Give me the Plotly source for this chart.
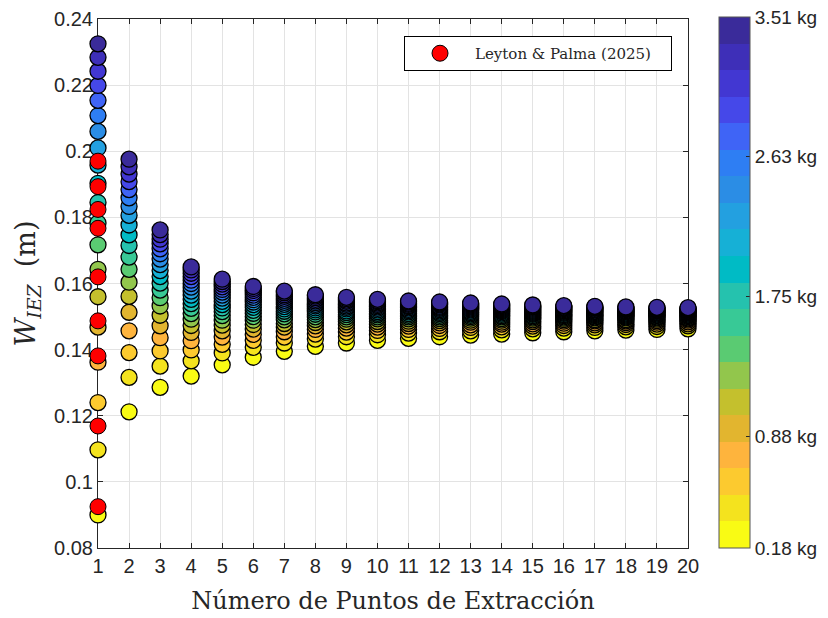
import plotly.graph_objects as go

# Number of extraction points (x axis)
puntos = list(range(1, 21))

# Charge mass per series (kg), lowest to highest
masa_kg = [0.18, 0.3553, 0.5305, 0.7058, 0.8811, 1.0563, 1.2316, 1.4068, 1.5821, 1.7574,
           1.9326, 2.1079, 2.2832, 2.4584, 2.6337, 2.8089, 2.9842, 3.1595, 3.3347, 3.51]

# W_IEZ (m) for each number of extraction points, one value per mass (same order as masa_kg)
w_n01 = [0.0900, 0.1097, 0.1240, 0.1362, 0.1468, 0.1560, 0.1643, 0.1717, 0.1783, 0.1845,
         0.1903, 0.1958, 0.2010, 0.2060, 0.2108, 0.2154, 0.2199, 0.2242, 0.2284, 0.2325]
w_n02 = [0.1212, 0.1316, 0.1391, 0.1457, 0.1513, 0.1561, 0.1604, 0.1643, 0.1680, 0.1715,
         0.1747, 0.1777, 0.1806, 0.1833, 0.1859, 0.1884, 0.1908, 0.1931, 0.1953, 0.1976]
w_n03 = [0.1286, 0.1350, 0.1396, 0.1436, 0.1472, 0.1504, 0.1532, 0.1557, 0.1580, 0.1601,
         0.1621, 0.1639, 0.1657, 0.1674, 0.1690, 0.1705, 0.1720, 0.1734, 0.1748, 0.1762]
w_n04 = [0.1320, 0.1366, 0.1399, 0.1427, 0.1452, 0.1473, 0.1492, 0.1509, 0.1525, 0.1539,
         0.1552, 0.1565, 0.1577, 0.1589, 0.1600, 0.1610, 0.1621, 0.1631, 0.1641, 0.1650]
w_n05 = [0.1354, 0.1390, 0.1416, 0.1438, 0.1457, 0.1474, 0.1489, 0.1503, 0.1515, 0.1526,
         0.1536, 0.1546, 0.1556, 0.1565, 0.1574, 0.1582, 0.1590, 0.1598, 0.1606, 0.1613]
w_n06 = [0.1377, 0.1407, 0.1428, 0.1446, 0.1462, 0.1476, 0.1489, 0.1500, 0.1510, 0.1519,
         0.1528, 0.1536, 0.1544, 0.1551, 0.1558, 0.1565, 0.1572, 0.1579, 0.1585, 0.1591]
w_n07 = [0.1395, 0.1420, 0.1438, 0.1454, 0.1468, 0.1479, 0.1490, 0.1499, 0.1508, 0.1516,
         0.1523, 0.1530, 0.1537, 0.1543, 0.1549, 0.1555, 0.1561, 0.1566, 0.1572, 0.1577]
w_n08 = [0.1410, 0.1432, 0.1447, 0.1461, 0.1472, 0.1482, 0.1491, 0.1499, 0.1507, 0.1514,
         0.1520, 0.1526, 0.1532, 0.1537, 0.1542, 0.1547, 0.1552, 0.1557, 0.1562, 0.1566]
w_n09 = [0.1420, 0.1439, 0.1453, 0.1465, 0.1475, 0.1484, 0.1492, 0.1499, 0.1506, 0.1512,
         0.1517, 0.1523, 0.1528, 0.1532, 0.1537, 0.1541, 0.1546, 0.1550, 0.1554, 0.1558]
w_n10 = [0.1428, 0.1445, 0.1458, 0.1468, 0.1477, 0.1485, 0.1493, 0.1499, 0.1505, 0.1510,
         0.1515, 0.1520, 0.1525, 0.1529, 0.1533, 0.1537, 0.1541, 0.1545, 0.1548, 0.1552]
w_n11 = [0.1434, 0.1450, 0.1461, 0.1471, 0.1479, 0.1486, 0.1493, 0.1499, 0.1504, 0.1509,
         0.1514, 0.1518, 0.1522, 0.1526, 0.1530, 0.1533, 0.1537, 0.1540, 0.1544, 0.1547]
w_n12 = [0.1439, 0.1454, 0.1464, 0.1473, 0.1481, 0.1488, 0.1494, 0.1499, 0.1504, 0.1509,
         0.1513, 0.1517, 0.1521, 0.1525, 0.1528, 0.1531, 0.1535, 0.1538, 0.1541, 0.1544]
w_n13 = [0.1444, 0.1457, 0.1467, 0.1475, 0.1483, 0.1489, 0.1495, 0.1500, 0.1504, 0.1508,
         0.1512, 0.1516, 0.1520, 0.1523, 0.1526, 0.1529, 0.1532, 0.1535, 0.1538, 0.1541]
w_n14 = [0.1447, 0.1460, 0.1469, 0.1477, 0.1483, 0.1489, 0.1494, 0.1499, 0.1503, 0.1507,
         0.1511, 0.1515, 0.1518, 0.1521, 0.1524, 0.1527, 0.1530, 0.1533, 0.1535, 0.1538]
w_n15 = [0.1451, 0.1463, 0.1471, 0.1478, 0.1485, 0.1490, 0.1495, 0.1499, 0.1503, 0.1507,
         0.1510, 0.1513, 0.1516, 0.1519, 0.1522, 0.1525, 0.1528, 0.1530, 0.1533, 0.1535]
w_n16 = [0.1454, 0.1465, 0.1473, 0.1480, 0.1486, 0.1491, 0.1495, 0.1499, 0.1503, 0.1506,
         0.1510, 0.1513, 0.1516, 0.1518, 0.1521, 0.1524, 0.1526, 0.1528, 0.1531, 0.1533]
w_n17 = [0.1457, 0.1467, 0.1475, 0.1481, 0.1487, 0.1491, 0.1496, 0.1499, 0.1503, 0.1506,
         0.1509, 0.1512, 0.1515, 0.1517, 0.1520, 0.1522, 0.1525, 0.1527, 0.1529, 0.1531]
w_n18 = [0.1459, 0.1469, 0.1476, 0.1482, 0.1487, 0.1491, 0.1496, 0.1499, 0.1502, 0.1505,
         0.1508, 0.1511, 0.1514, 0.1516, 0.1518, 0.1521, 0.1523, 0.1525, 0.1527, 0.1529]
w_n19 = [0.1461, 0.1470, 0.1477, 0.1483, 0.1488, 0.1492, 0.1496, 0.1499, 0.1503, 0.1505,
         0.1508, 0.1511, 0.1513, 0.1516, 0.1518, 0.1520, 0.1522, 0.1524, 0.1526, 0.1528]
w_n20 = [0.1463, 0.1472, 0.1478, 0.1484, 0.1489, 0.1493, 0.1496, 0.1500, 0.1503, 0.1505,
         0.1508, 0.1511, 0.1513, 0.1515, 0.1517, 0.1519, 0.1521, 0.1523, 0.1525, 0.1527]

# Leyton & Palma (2025) reference values, single extraction point
leyton_palma_x = [1, 1, 1, 1, 1, 1, 1, 1, 1]
leyton_palma_w = [0.1970, 0.1893, 0.1824, 0.1767, 0.1620, 0.1487, 0.1381, 0.1169, 0.0925]

# Colorbar ticks
cbar_tickvals = [0.18, 0.8775, 1.755, 2.6325, 3.51]
cbar_ticktext = ["0.18 kg", "0.88 kg", "1.75 kg", "2.63 kg", "3.51 kg"]

# 20-level parula-like palette, low to high
paleta = ["#f9fb14", "#f4e31e", "#fcca2f", "#feb43d", "#e2b52f", "#c4c02d", "#92c64c",
          "#5acb72", "#38c996", "#25c2ae", "#00bbc5", "#16b0d6", "#23a0e0", "#2b8de5",
          "#2e7ef3", "#3f64f6", "#4548e9", "#4237d2", "#3e2fb8", "#3a2b9a"]

columnas = [w_n01, w_n02, w_n03, w_n04, w_n05, w_n06, w_n07, w_n08, w_n09, w_n10,
            w_n11, w_n12, w_n13, w_n14, w_n15, w_n16, w_n17, w_n18, w_n19, w_n20]

# Stepped colorscale so each mass falls in its own band
n = len(paleta)
escala = []
for i, c in enumerate(paleta):
    escala.append([i / n, c])
    escala.append([(i + 1) / n, c])

# Points ordered by mass so heavier charges are drawn on top
xs, ys, cs = [], [], []
for k, m in enumerate(masa_kg):
    for j, p in enumerate(puntos):
        xs.append(p)
        ys.append(columnas[j][k])
        cs.append(m)

fig = go.Figure()
fig.add_trace(go.Scatter(
    x=xs, y=ys, mode="markers", showlegend=False, cliponaxis=False,
    marker=dict(size=16, color=cs, colorscale=escala, cmin=0.18, cmax=3.51,
                line=dict(color="black", width=1.3),
                colorbar=dict(
                    tickvals=cbar_tickvals, ticktext=cbar_ticktext,
                    ticks="inside", ticklen=4, tickcolor="#262626",
                    tickfont=dict(family="Liberation Sans", size=19, color="#262626"),
                    thickness=31, thicknessmode="pixels",
                    len=1.004, lenmode="fraction", y=1.004, yanchor="top",
                    x=1.0525, xanchor="left", xpad=0, ypad=0,
                    outlinewidth=1, outlinecolor="#555555"))
))
fig.add_trace(go.Scatter(
    x=leyton_palma_x, y=leyton_palma_w, mode="markers", name="Leyton & Palma (2025)",
    cliponaxis=False,
    marker=dict(size=16, color="#ff0000", line=dict(color="black", width=1.0))
))

ejes = dict(showline=True, linecolor="#262626", linewidth=1, mirror="ticks",
            ticks="inside", ticklen=5, tickcolor="#262626",
            showgrid=True, gridcolor="#e3e3e3", gridwidth=1, zeroline=False,
            layer="below traces",
            tickfont=dict(family="Liberation Sans", size=20, color="#262626"))

fig.update_xaxes(range=[1, 20], tickmode="array", tickvals=puntos,
                 title=dict(text="Número de Puntos de Extracción",
                            font=dict(family="DejaVu Serif", size=24, color="#262626"),
                            standoff=16),
                 **ejes)
fig.update_yaxes(range=[0.08, 0.24], tickmode="array",
                 tickvals=[0.08, 0.1, 0.12, 0.14, 0.16, 0.18, 0.2, 0.22, 0.24],
                 ticktext=["0.08", "0.1", "0.12", "0.14", "0.16", "0.18", "0.2", "0.22", "0.24"],
                 title=dict(text="<i>W</i><sub><i>IEZ</i></sub>  (m)",
                            font=dict(family="DejaVu Serif", size=27, color="#262626"),
                            standoff=10),
                 **ejes)

fig.update_layout(
    width=828, height=618,
    margin=dict(l=98, r=140, t=19, b=70, autoexpand=False),
    plot_bgcolor="white", paper_bgcolor="white",
    legend=dict(orientation="h", x=0.9729, xanchor="right", y=0.9679, yanchor="top",
                bgcolor="white", bordercolor="black", borderwidth=1,
                font=dict(family="DejaVu Serif", size=15, color="#262626"),
                itemwidth=60, entrywidth=191, entrywidthmode="pixels"),
)

fig.write_html("out.html")
